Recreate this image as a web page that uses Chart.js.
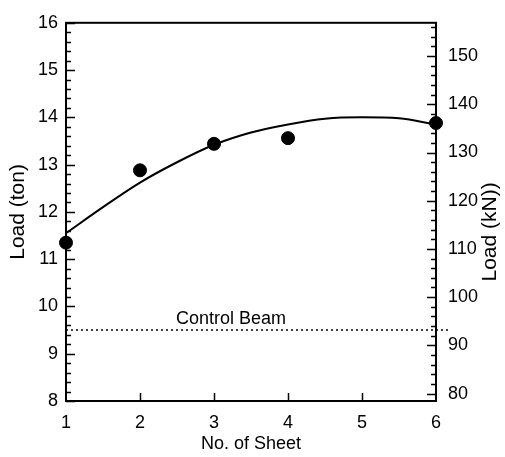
<!DOCTYPE html>
<html>
<head>
<meta charset="utf-8">
<script src="https://cdn.jsdelivr.net/npm/chart.js@4"></script>
<style>
  html, body { margin: 0; padding: 0; background: #fff; }
</style>
</head>
<body>
<canvas id="loadChart" width="505" height="457"></canvas>
<script>
// values
const sheets = [1, 2, 3, 4, 6];
const loadTon = [11.35, 12.88, 13.44, 13.56, 13.88];
const fitSheets = [1, 1.5, 2, 2.5, 3, 3.5, 4, 4.5, 5, 5.5, 6];
const fitTon = [11.55, 12.1, 12.62, 13.05, 13.42, 13.68, 13.85, 13.97, 14.0, 13.98, 13.85];
const controlSheets = [1, 6.19];
const controlTon = [9.5, 9.5];
const xTicks = [1, 2, 3, 4, 5, 6];
const tonTicks = [8, 9, 10, 11, 12, 13, 14, 15, 16];
const kNTicks = [80, 90, 100, 110, 120, 130, 140, 150];

const TON_TO_KN = 9.80665;
const FONT = "'Liberation Sans', Arial, sans-serif";
const tickFont = { family: FONT, size: 18 };
const sideTitleFont = { family: FONT, size: 21 };

const toPoints = (xs, ys) => xs.map((x, i) => ({ x: x, y: ys[i] }));

// frame, inward tick marks, control beam note and right-hand title
const frameTicks = {
  id: 'frameTicks',
  afterDraw(chart) {
    const { ctx, chartArea: a } = chart;
    const x = chart.scales.x, y = chart.scales.y, y2 = chart.scales.y2;
    ctx.save();
    ctx.strokeStyle = '#000';
    ctx.lineWidth = 2;
    ctx.strokeRect(a.left, a.top, a.right - a.left, a.bottom - a.top);

    ctx.lineWidth = 1.5;
    ctx.beginPath();
    for (let i = 0; i <= 40; i++) {
      const py = Math.round(y.getPixelForValue(8 + i * 0.2)) + 0.5;
      ctx.moveTo(a.left, py);
      ctx.lineTo(a.left + (i % 5 === 0 ? 9 : 5), py);
    }
    for (let v = 80; v <= 156; v += 2) {
      const py = Math.round(y2.getPixelForValue(v)) + 0.5;
      ctx.moveTo(a.right, py);
      ctx.lineTo(a.right - (v % 10 === 0 ? 9 : 5), py);
    }
    xTicks.slice(1, -1).forEach(v => {
      const px = Math.round(x.getPixelForValue(v)) + 0.5;
      ctx.moveTo(px, a.bottom);
      ctx.lineTo(px, a.bottom - 8);
    });
    ctx.stroke();

    ctx.fillStyle = '#000';
    ctx.font = '18px ' + FONT;
    ctx.textAlign = 'center';
    ctx.textBaseline = 'middle';
    ctx.fillText('Control Beam', x.getPixelForValue(3.23), y.getPixelForValue(9.74));

    ctx.font = '21px ' + FONT;
    ctx.translate(y2.right - 15, (a.top + a.bottom) / 2 + 20);
    ctx.rotate(-Math.PI / 2);
    ctx.fillText('Load (kN))', 0, 0);
    ctx.restore();
  }
};

new Chart(document.getElementById('loadChart'), {
  type: 'scatter',
  data: {
    datasets: [
      {
        data: toPoints(sheets, loadTon),
        pointRadius: 6.5,
        pointBackgroundColor: '#000',
        pointBorderColor: '#000',
        clip: false
      },
      {
        data: toPoints(fitSheets, fitTon),
        showLine: true,
        borderColor: '#000',
        borderWidth: 2,
        pointRadius: 0,
        tension: 0.4,
        cubicInterpolationMode: 'monotone'
      },
      {
        data: toPoints(controlSheets, controlTon),
        showLine: true,
        borderColor: '#000',
        borderWidth: 1.5,
        borderDash: [2, 3],
        pointRadius: 0,
        clip: false
      }
    ]
  },
  options: {
    responsive: false,
    animation: false,
    layout: { padding: { top: 21, left: 0, right: 0, bottom: 0 } },
    plugins: {
      legend: { display: false },
      tooltip: { enabled: false }
    },
    scales: {
      x: {
        type: 'linear',
        min: 1, max: 6,
        afterBuildTicks: s => { s.ticks = xTicks.map(v => ({ value: v })); },
        afterFit: s => { s.height = 56; },
        grid: { display: false, drawTicks: false },
        border: { display: false },
        ticks: { color: '#000', font: tickFont, padding: 11, maxRotation: 0 },
        title: { display: true, text: 'No. of Sheet', color: '#000', font: tickFont, padding: 2 }
      },
      y: {
        position: 'left',
        min: 8, max: 16,
        afterBuildTicks: s => { s.ticks = tonTicks.map(v => ({ value: v })); },
        afterFit: s => { s.width = 66; },
        grid: { display: false, drawTicks: false },
        border: { display: false },
        ticks: { color: '#000', font: tickFont, padding: 8 },
        title: { display: true, text: 'Load (ton)', color: '#000', font: sideTitleFont, padding: 6 }
      },
      y2: {
        position: 'right',
        min: 8 * TON_TO_KN, max: 16 * TON_TO_KN,
        afterBuildTicks: s => { s.ticks = kNTicks.map(v => ({ value: v })); },
        afterFit: s => { s.width = 69; },
        grid: { display: false, drawTicks: false },
        border: { display: false },
        ticks: { color: '#000', font: tickFont, padding: 12 }
      }
    }
  },
  plugins: [frameTicks]
});
</script>
</body>
</html>
